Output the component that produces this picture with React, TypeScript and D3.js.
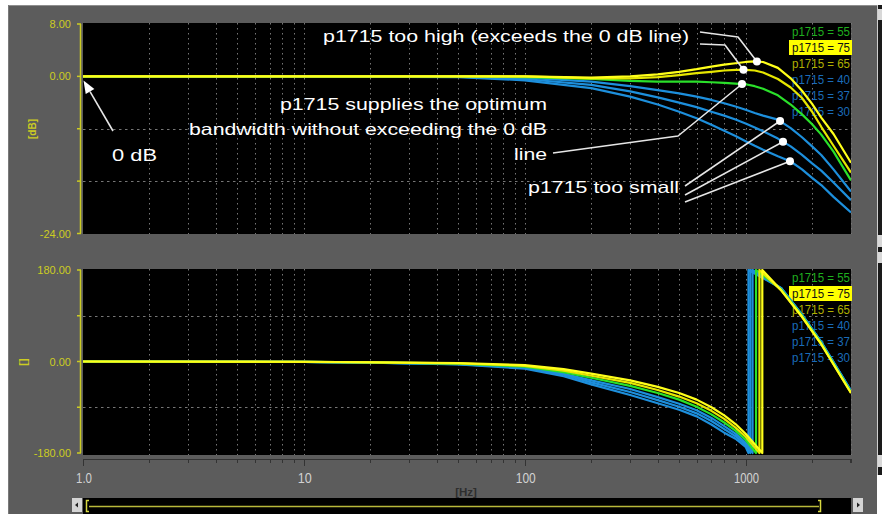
import React from "react";
import * as d3 from "d3";

// ---- frequency response data (p1715 variants) ----
const MAG_FREQ = [1, 10, 50, 100, 200, 300, 400, 500, 600, 700, 800, 900, 1000, 1100, 1200, 1400, 1600, 1800, 2000, 2200, 2500, 3000];
const MAG_P75 = [0, 0, 0, 0, -0.2, 0.0, 0.3, 0.7, 1.1, 1.5, 1.8, 2.0, 2.2, 2.3, 2.2, 1.3, -0.3, -2.2, -4.2, -6.3, -8.8, -13.2];
const MAG_P65 = [0, 0, 0, 0, -0.3, -0.3, -0.1, 0.2, 0.5, 0.7, 0.9, 1.0, 1.0, 0.9, 0.6, -0.4, -1.7, -3.3, -5.4, -7.7, -10.6, -14.7];
const MAG_P55 = [0, 0, 0, -0.1, -0.4, -0.7, -0.8, -0.8, -0.8, -0.9, -1.0, -1.1, -1.2, -1.5, -1.9, -2.9, -4.3, -5.8, -7.3, -8.9, -11.5, -15.9];
const MAG_P40 = [0, 0, -0.05, -0.2, -0.8, -1.5, -2.1, -2.6, -3.1, -3.6, -4.1, -4.6, -5.1, -5.6, -6.0, -6.6, -7.9, -9.3, -10.7, -12.0, -14.2, -17.6];
const MAG_P37 = [0, 0, -0.05, -0.4, -1.3, -2.3, -3.2, -4.0, -4.7, -5.4, -6.0, -6.6, -7.2, -7.8, -8.4, -9.5, -10.7, -12.0, -13.3, -14.4, -16.2, -18.9];
const MAG_P30 = [0, 0, -0.1, -0.6, -1.8, -3.1, -4.3, -5.4, -6.4, -7.4, -8.3, -9.1, -9.9, -10.6, -11.2, -12.2, -13.0, -14.2, -15.5, -16.6, -18.4, -20.8];

const PH_FREQ = [1, 10, 20, 50, 100, 150, 200, 300, 400, 500, 600, 700, 800, 900, 1000];
const PH_P75 = [0, -0.5, -1.5, -3, -7, -15, -24, -37, -50, -62, -75, -90, -106, -123, -142];
const PH_P65 = [0, -0.6, -1.7, -3.5, -8.5, -18, -28, -42, -56, -69, -82, -97, -113, -130, -148];
const PH_P55 = [0, -0.7, -1.9, -4, -10, -21, -32, -48, -62, -75, -89, -104, -120, -136, -154];
const PH_P40 = [0, -0.8, -2.1, -4.5, -11, -24, -37, -54, -70, -83, -96, -111, -127, -142, -160];
const PH_P37 = [0, -0.9, -2.3, -5, -12.5, -26, -41, -60, -76, -89, -102, -117, -133, -147, -164];
const PH_P30 = [0, -1, -2.5, -5.5, -14, -29, -45, -66, -82, -95, -108, -124, -140, -152, -168];
// frequency where the phase wraps from -180 to +180
const WRAP_P75 = 1190;
const WRAP_P65 = 1155;
const WRAP_P55 = 1115;
const WRAP_P40 = 1075;
const WRAP_P37 = 1050;
const WRAP_P30 = 1030;
const POST_FREQ = [1450, 1800, 2200, 3000];
const POST_YELLOW = [140, 88, 34, -62];
const POST_GREEN = [142, 90, 36, -60];
const POST_BLUE = [144, 92, 38, -58];

const LEGEND_LABELS = ["p1715 = 55", "p1715 = 75", "p1715 = 65", "p1715 = 40", "p1715 = 37", "p1715 = 30"];
const X_TICK_LABELS = [
  { f: 1, t: "1.0", w: 16 },
  { f: 10, t: "10", w: 14 },
  { f: 100, t: "100", w: 20 },
  { f: 1000, t: "1000", w: 25 },
];
const MAG_TICKS = [8, 0, -8, -16, -24];
const MAG_TICK_LABELS = [
  { v: 8, t: "8.00" },
  { v: 0, t: "0.00" },
  { v: -24, t: "-24.00" },
];
const PH_TICKS = [180, 90, 0, -90, -180];
const PH_TICK_LABELS = [
  { v: 180, t: "180.00" },
  { v: 0, t: "0.00" },
  { v: -180, t: "-180.00" },
];

// ---- colours ----
const C_YEL = "#ffff1a";
const C_YEL2 = "#e6e600";
const C_GRN = "#2ae02a";
const C_BLU = "#1d8fdc";
const AXIS_YEL = "#cccc22";
const PANEL = "#5c5c5c";
const GRID = "#767676";

type Series = {
  key: string;
  color: string;
  mag: number[];
  ph: number[];
  wrap: number;
  post: number[];
};

const SERIES: Series[] = [
  { key: "30", color: C_BLU, mag: MAG_P30, ph: PH_P30, wrap: WRAP_P30, post: POST_BLUE },
  { key: "37", color: C_BLU, mag: MAG_P37, ph: PH_P37, wrap: WRAP_P37, post: POST_BLUE },
  { key: "40", color: C_BLU, mag: MAG_P40, ph: PH_P40, wrap: WRAP_P40, post: POST_BLUE },
  { key: "55", color: C_GRN, mag: MAG_P55, ph: PH_P55, wrap: WRAP_P55, post: POST_GREEN },
  { key: "65", color: C_YEL2, mag: MAG_P65, ph: PH_P65, wrap: WRAP_P65, post: POST_YELLOW },
  { key: "75", color: C_YEL, mag: MAG_P75, ph: PH_P75, wrap: WRAP_P75, post: POST_YELLOW },
];

const LEGEND_STYLE = [
  { fill: "#1fae1f", bg: null },
  { fill: "#111111", bg: "#ffff00" },
  { fill: "#b0b000", bg: null },
  { fill: "#1a6cb8", bg: null },
  { fill: "#1a6cb8", bg: null },
  { fill: "#1a6cb8", bg: null },
];

// ---- layout ----
const W = 882;
const H = 514;
const PX0 = 83;
const PX1 = 851;
const TOP_Y0 = 23;
const TOP_Y1 = 234;
const BOT_Y0 = 269;
const BOT_Y1 = 455;

const x = d3.scaleLog().domain([1, 3000]).range([PX0, PX1]);
const yMag = d3.scaleLinear().domain([-24, 8]).range([233.5, 24]);
const yPh = d3.scaleLinear().domain([-180, 180]).range([453, 270]);

function valueAt(freqs: number[], vals: number[], f: number): number {
  const i = Math.max(0, Math.min(freqs.length - 2, d3.bisectRight(freqs, f) - 1));
  const t = (Math.log10(f) - Math.log10(freqs[i])) / (Math.log10(freqs[i + 1]) - Math.log10(freqs[i]));
  return vals[i] + t * (vals[i + 1] - vals[i]);
}

const magLine = d3
  .line<[number, number]>()
  .x((d) => x(d[0]))
  .y((d) => yMag(d[1]));
const phLine = d3
  .line<[number, number]>()
  .x((d) => x(d[0]))
  .y((d) => yPh(d[1]));

function magPoints(s: Series): [number, number][] {
  return MAG_FREQ.map((f, i) => [f, s.mag[i]] as [number, number]);
}
function phPoints(s: Series): [number, number][] {
  const pts: [number, number][] = PH_FREQ.map((f, i) => [f, s.ph[i]] as [number, number]);
  pts.push([s.wrap, -180]);
  pts.push([s.wrap, 180]);
  POST_FREQ.forEach((f, i) => pts.push([f, s.post[i]]));
  return pts;
}

// log grid positions: 1..9 x 10^k within domain
const GRID_FREQS: number[] = [];
for (let k = 0; k <= 3; k++) {
  for (let m = 1; m <= 9; m++) {
    const f = m * Math.pow(10, k);
    if (f <= 3000) GRID_FREQS.push(f);
  }
}

// annotation anchors on the magnitude curves
const DOTS = [
  { key: "75", f: 1125 },
  { key: "65", f: 978 },
  { key: "55", f: 963 },
  { key: "40", f: 1432 },
  { key: "37", f: 1477 },
  { key: "30", f: 1588 },
];

const FONT = "'Liberation Sans', Arial, Helvetica, sans-serif";

export default function App() {
  const dot = (key: string, f: number) => {
    const s = SERIES.find((d) => d.key === key)!;
    return [x(f), yMag(valueAt(MAG_FREQ, s.mag, f))] as [number, number];
  };
  const dotPts = DOTS.map((d) => dot(d.key, d.f));
  const [d75, d65, d55, d40, d37, d30] = dotPts;

  // 0 dB arrow
  const tip: [number, number] = [x(1) + 0.5, yMag(0) + 4];
  const tail: [number, number] = [113, 131];
  const ang = Math.atan2(tip[1] - tail[1], tip[0] - tail[0]);
  const aLen = 13;
  const aW = 5;
  const bx = tip[0] - aLen * Math.cos(ang);
  const by = tip[1] - aLen * Math.sin(ang);
  const arrow = [
    tip,
    [bx + aW * Math.sin(ang), by - aW * Math.cos(ang)],
    [bx - aW * Math.sin(ang), by + aW * Math.cos(ang)],
  ]
    .map((p) => p.join(","))
    .join(" ");

  const poly = (pts: [number, number][]) => pts.map((p) => p.join(",")).join(" ");

  const yAxis = (
    ticks: number[],
    labels: { v: number; t: string }[],
    scale: d3.ScaleLinear<number, number>,
    top: number,
    bottom: number
  ) => (
    <g>
      <line x1={80.5} x2={80.5} y1={top} y2={bottom} stroke={AXIS_YEL} strokeWidth={1.5} />
      {ticks.map((v) => (
        <line key={v} x1={77} x2={81} y1={scale(v)} y2={scale(v)} stroke={AXIS_YEL} strokeWidth={1.5} />
      ))}
      {labels.map((l) => (
        <text
          key={l.t}
          x={71}
          y={scale(l.v) + 4}
          textAnchor="end"
          fontFamily={FONT}
          fontSize={11}
          fill={AXIS_YEL}
        >
          {l.t}
        </text>
      ))}
    </g>
  );

  const grid = (y0: number, y1: number, hTicks: number[], scale: d3.ScaleLinear<number, number>) => (
    <g>
      {GRID_FREQS.filter((f) => f > 1).map((f) => (
        <line
          key={f}
          x1={Math.round(x(f)) + 0.5}
          x2={Math.round(x(f)) + 0.5}
          y1={y0}
          y2={y1}
          stroke={GRID}
          strokeWidth={1}
          strokeDasharray="1.5,3.5"
        />
      ))}
      {hTicks.map((v) => (
        <line
          key={v}
          x1={PX0}
          x2={PX1}
          y1={Math.round(scale(v)) + 0.5}
          y2={Math.round(scale(v)) + 0.5}
          stroke={GRID}
          strokeWidth={1}
          strokeDasharray="2.5,3.5"
        />
      ))}
    </g>
  );

  const legend = (y0: number) => (
    <g>
      {LEGEND_LABELS.map((t, i) => {
        const cy = y0 + i * 16;
        const st = LEGEND_STYLE[i];
        return (
          <g key={t}>
            {st.bg && <rect x={789} y={cy - 7.5} width={63} height={15} fill={st.bg} />}
            <text
              x={792}
              y={cy + 4.5}
              fontFamily={FONT}
              fontSize={12}
              fill={st.fill}
              textLength={58}
              lengthAdjust="spacingAndGlyphs"
            >
              {t}
            </text>
          </g>
        );
      })}
    </g>
  );

  const annot = {
    fontFamily: FONT,
    fontSize: 16.5,
    fill: "#ffffff",
    lengthAdjust: "spacingAndGlyphs" as const,
  };

  return (
    <svg
      width={W}
      height={H}
      viewBox={`0 0 ${W} ${H}`}
      style={{ position: "absolute", left: 0, top: 0, display: "block" }}
    >
      <defs>
        <clipPath id="clipTop">
          <rect x={PX0} y={TOP_Y0} width={PX1 - PX0} height={TOP_Y1 - TOP_Y0} />
        </clipPath>
        <clipPath id="clipBot">
          <rect x={PX0} y={BOT_Y0} width={PX1 - PX0} height={BOT_Y1 - BOT_Y0} />
        </clipPath>
      </defs>
      <rect x={0} y={0} width={W} height={H} fill="#ffffff" />
      <rect x={8} y={5} width={869} height={H - 5} fill={PANEL} />
      <line x1={8} x2={877} y1={5.5} y2={5.5} stroke="#8e8e8e" />
      <line x1={8.5} x2={8.5} y1={5} y2={H} stroke="#7a7a7a" />

      {/* side scroller strip */}
      <rect x={877} y={5} width={5} height={470} fill="#1a1a1a" />
      <line x1={877.5} x2={877.5} y1={5} y2={475} stroke="#cfcfcf" />
      <rect x={878} y={9} width={4} height={11} fill="#d8d8d8" />
      <rect x={878} y={235} width={4} height={12} fill="#d8d8d8" />
      <rect x={878} y={252} width={4} height={11} fill="#d8d8d8" />
      <rect x={878} y={455} width={4} height={12} fill="#d8d8d8" />

      {/* plot backgrounds */}
      <rect x={PX0} y={TOP_Y0} width={PX1 - PX0} height={TOP_Y1 - TOP_Y0} fill="#000000" />
      <rect x={PX0} y={BOT_Y0} width={PX1 - PX0} height={BOT_Y1 - BOT_Y0} fill="#000000" />

      {grid(TOP_Y0, TOP_Y1, [-8, -16], yMag)}
      {grid(BOT_Y0, BOT_Y1, [90, -90], yPh)}

      {legend(31.5)}
      {legend(277.5)}

      {/* magnitude curves */}
      <g clipPath="url(#clipTop)">
        {SERIES.map((s) => (
          <path
            key={s.key}
            d={magLine(magPoints(s)) || ""}
            fill="none"
            stroke={s.color}
            strokeWidth={2.2}
            strokeLinejoin="round"
          />
        ))}
      </g>
      {/* phase curves */}
      <g clipPath="url(#clipBot)">
        {SERIES.map((s) => (
          <path
            key={s.key}
            d={phLine(phPoints(s)) || ""}
            fill="none"
            stroke={s.color}
            strokeWidth={2.2}
            strokeLinejoin="round"
          />
        ))}
      </g>

      {/* y axes */}
      {yAxis(MAG_TICKS, MAG_TICK_LABELS, yMag, 24, 233.5)}
      {yAxis(PH_TICKS, PH_TICK_LABELS, yPh, 270, 453)}
      <text
        transform="translate(36,129) rotate(-90)"
        textAnchor="middle"
        fontFamily={FONT}
        fontSize={10}
        fontWeight="bold"
        fill={AXIS_YEL}
      >
        [dB]
      </text>
      <text
        transform="translate(27,362) rotate(-90)"
        textAnchor="middle"
        fontFamily={FONT}
        fontSize={11}
        fontWeight="bold"
        fill={AXIS_YEL}
      >
        []
      </text>

      {/* x axis */}
      <line x1={PX0} x2={PX1} y1={459.5} y2={459.5} stroke="#333333" strokeWidth={1} />
      {GRID_FREQS.map((f) => {
        const major = [1, 10, 100, 1000].includes(f);
        return (
          <line
            key={f}
            x1={Math.round(x(f)) + 0.5}
            x2={Math.round(x(f)) + 0.5}
            y1={459}
            y2={major ? 466 : 463}
            stroke="#333333"
            strokeWidth={1}
          />
        );
      })}
      <line x1={PX1 - 0.5} x2={PX1 - 0.5} y1={459} y2={463} stroke="#333333" />
      {X_TICK_LABELS.map((l) => (
        <text
          key={l.t}
          x={x(l.f) + 1}
          y={482.5}
          textAnchor="middle"
          fontFamily={FONT}
          fontSize={15}
          fill="#d2d2d2"
          textLength={l.w}
          lengthAdjust="spacingAndGlyphs"
        >
          {l.t}
        </text>
      ))}
      <text
        x={466}
        y={496}
        textAnchor="middle"
        fontFamily={FONT}
        fontSize={11.5}
        fontWeight="bold"
        fill="#2e2e2e"
      >
        [Hz]
      </text>

      {/* horizontal scroll bar */}
      <rect x={PX0} y={498} width={PX1 - PX0} height={16} fill="#000000" />
      <rect x={72} y={498} width={10} height={14} fill="#d4d4d4" />
      <polygon points="75,505 78,502.5 78,507.5" fill="#222" />
      <rect x={853} y={498} width={10} height={14} fill="#d4d4d4" />
      <polygon points="860,505 857,502.5 857,507.5" fill="#222" />
      <line x1={89} x2={819} y1={506.5} y2={506.5} stroke="#b8b83a" strokeWidth={1.5} />
      <path d="M89,500.5 H86.5 V511.5 H89" fill="none" stroke="#d8d840" strokeWidth={1.5} />
      <path d="M818,500.5 H820.5 V511.5 H818" fill="none" stroke="#d8d840" strokeWidth={1.5} />

      {/* annotations */}
      <g stroke="#e6e6e6" strokeWidth={1.6} fill="none" strokeLinejoin="round">
        <line x1={tail[0]} y1={tail[1]} x2={bx} y2={by} />
        <polyline points={poly([[700, 32], [738, 37], d75])} />
        <polyline points={poly([[700, 44], [725, 45], d65])} />
        <polyline points={poly([[553, 153], [678, 136], d55])} />
        <polyline points={poly([[685, 186], d40])} />
        <polyline points={poly([[685, 195], d37])} />
        <polyline points={poly([[685, 202], d30])} />
      </g>
      <polygon points={arrow} fill="#ffffff" />
      {dotPts.map((p, i) => (
        <circle key={i} cx={p[0]} cy={p[1]} r={4} fill="#ffffff" />
      ))}

      <text x={323} y={42} textLength={366} {...annot}>
        p1715 too high (exceeds the 0 dB line)
      </text>
      <text x={547} y={110} textAnchor="end" textLength={267} {...annot}>
        p1715 supplies the optimum
      </text>
      <text x={547} y={135} textAnchor="end" textLength={358} {...annot}>
        bandwidth without exceeding the 0 dB
      </text>
      <text x={547} y={160} textAnchor="end" textLength={33} {...annot}>
        line
      </text>
      <text x={528} y={193} textLength={151} {...annot}>
        p1715 too small
      </text>
      <text x={112} y={161} textLength={45} {...annot}>
        0 dB
      </text>
    </svg>
  );
}
